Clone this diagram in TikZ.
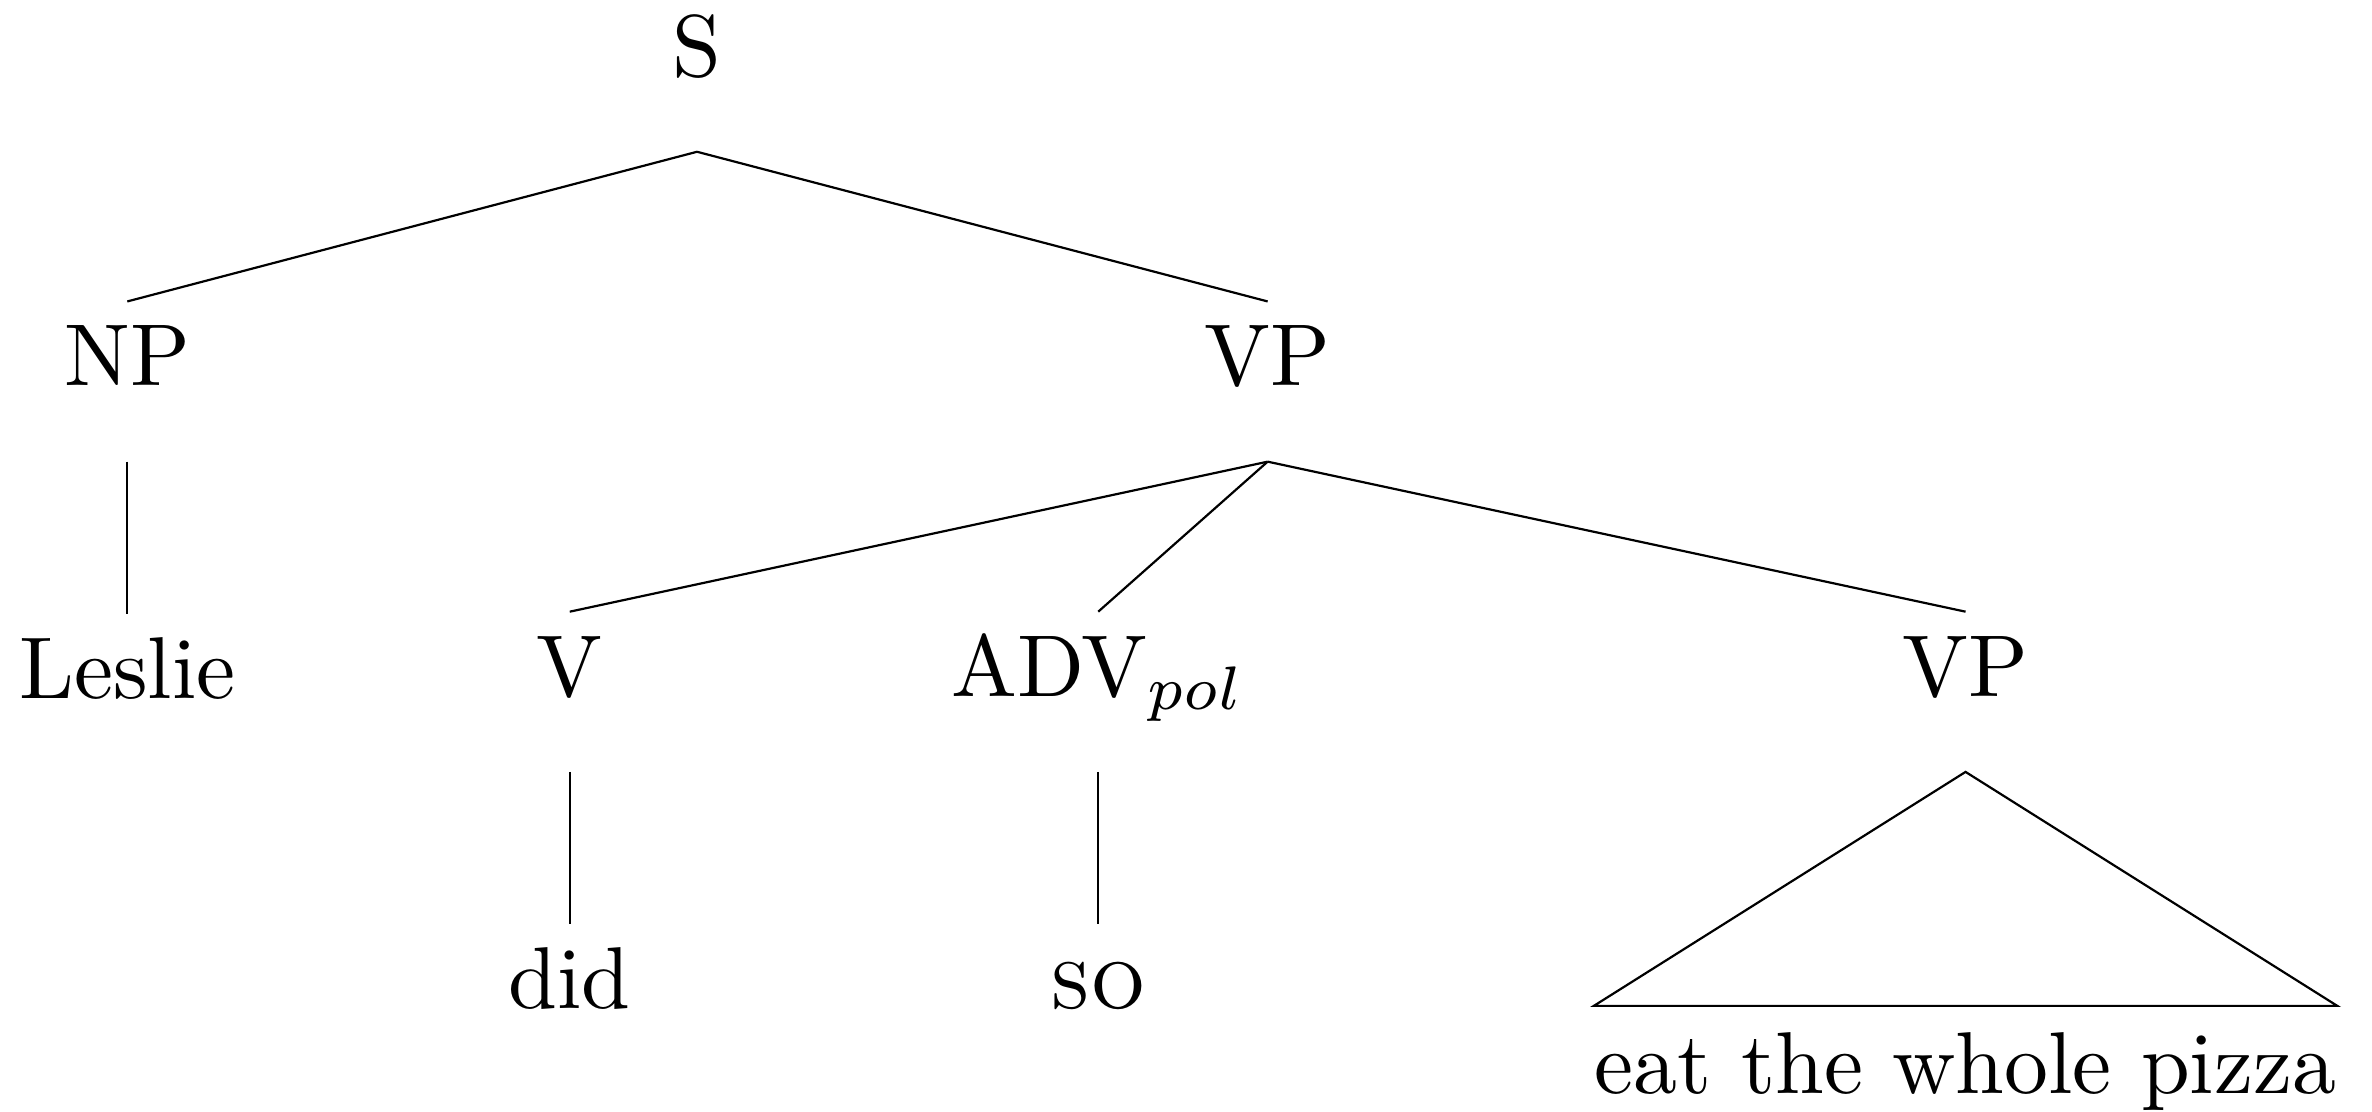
\documentclass[tikz,border=0pt]{standalone}
\usetikzlibrary{positioning}
\tikzset{cat/.style={inner sep=0pt,text height=9.5pt,text depth=8.5pt,anchor=base},
         roofed/.style={inner sep=0pt,text height=9.9pt,text depth=2pt,anchor=base}}

\begin{document}
\begin{tikzpicture}[line width=0.25pt]
\useasboundingbox (0,0) rectangle (270.2pt,-126.65pt);

\node[cat] (S) at (79.4pt,-8.66pt) {S};
\node[cat] (NP) at (14.5pt,-43.96pt) {NP};
\node[cat] (VP1) at (144.4pt,-43.96pt) {VP};
\draw (S.south) -- (NP.north);
\draw (S.south) -- (VP1.north);

\node[cat,below=17.3pt of NP] (Leslie) {Leslie};
\draw (NP.south) -- (Leslie.north);

\node[cat] (V) at (64.9pt,-79.3pt) {V};
\node[cat] (ADV) at (125.1pt,-79.3pt) {ADV$_{pol}$};
\node[cat] (VP2) at (223.9pt,-79.3pt) {VP};
\foreach \X in {V,ADV,VP2}
{\draw (VP1.south) -- (\X.north);}

\node[cat,below=17.3pt of V] (did) {did};
\node[cat,below=17.3pt of ADV] (so) {\textsc{so}};
\draw (V.south) -- (did.north);
\draw (ADV.south) -- (so.north);

% roof over the VP
\node[roofed] (pizza) at (223.9pt,-124.6pt) {eat the whole pizza};
\draw (VP2.south) -- (pizza.north west) -- (pizza.north east) -- cycle;

\end{tikzpicture}
\end{document}
